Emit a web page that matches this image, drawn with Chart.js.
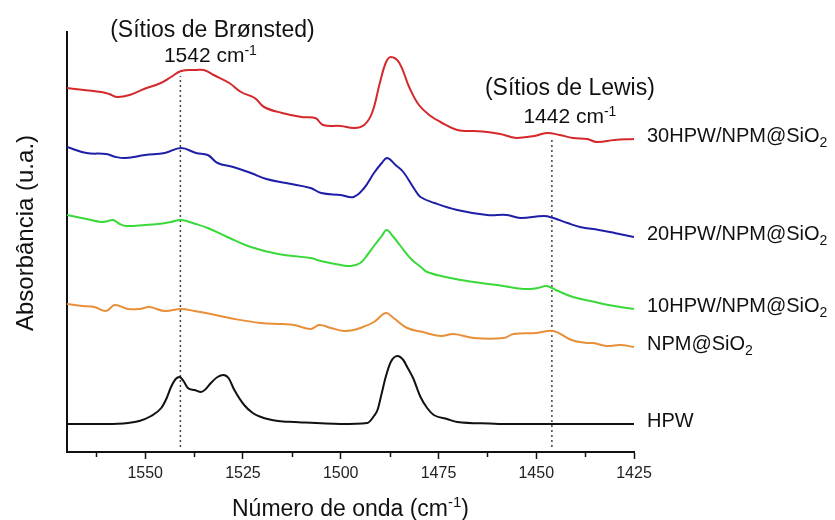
<!DOCTYPE html>
<html>
<head>
<meta charset="utf-8">
<script src="https://cdn.jsdelivr.net/npm/chart.js@4.4.1/dist/chart.umd.min.js"></script>
<style>
  html, body { margin: 0; padding: 0; background: #fff; }
  canvas { display: block; }
</style>
</head>
<body>
<canvas id="spectra" width="835" height="520"></canvas>
<script>
const FONT = '"Liberation Sans", Arial, sans-serif';

// wavenumber (cm-1) / absorbance (a.u., stacked)
const wn30 = [1570, 1561.2, 1559.2, 1557.3, 1554, 1550.3, 1546, 1543.4, 1540.8, 1537, 1535, 1532.5, 1528.5, 1525.5, 1522, 1519.6, 1515, 1510, 1506.5, 1504.5, 1500, 1496.5, 1494, 1492, 1490, 1488.5, 1487.2, 1485, 1482.5, 1480, 1477, 1474.5, 1470.2, 1466, 1462.6, 1459.2, 1456.5, 1454.9, 1450.5, 1447.3, 1444, 1440.6, 1437, 1434.5, 1430, 1425];
const abs30 = [3.64, 3.60, 3.58, 3.55, 3.57, 3.63, 3.69, 3.75, 3.81, 3.82, 3.82, 3.77, 3.69, 3.60, 3.54, 3.45, 3.39, 3.35, 3.34, 3.27, 3.26, 3.24, 3.27, 3.39, 3.69, 3.89, 3.95, 3.89, 3.65, 3.47, 3.36, 3.30, 3.22, 3.21, 3.20, 3.18, 3.15, 3.14, 3.16, 3.19, 3.17, 3.14, 3.13, 3.10, 3.12, 3.13];

const wn20 = [1570, 1565, 1560, 1557.5, 1555, 1550, 1545, 1540.8, 1537, 1534, 1531.5, 1527.5, 1523, 1519, 1514, 1507.7, 1505, 1500, 1496.7, 1494, 1491.5, 1489.5, 1488.1, 1486, 1484, 1481, 1479.6, 1476, 1470.2, 1462.6, 1457.5, 1454.1, 1448.1, 1445.6, 1442, 1438.8, 1434, 1430, 1425];
const abs20 = [3.05, 2.99, 2.98, 2.95, 2.94, 2.97, 2.99, 3.04, 2.99, 2.97, 2.89, 2.85, 2.79, 2.73, 2.69, 2.64, 2.59, 2.57, 2.55, 2.64, 2.79, 2.89, 2.94, 2.87, 2.80, 2.62, 2.55, 2.49, 2.42, 2.37, 2.37, 2.34, 2.36, 2.34, 2.29, 2.25, 2.22, 2.19, 2.15];

const wn10 = [1570, 1565, 1561.2, 1559.5, 1558.2, 1556.5, 1554.8, 1550, 1546.8, 1543.5, 1540.8, 1537, 1534, 1529, 1523, 1516, 1507.7, 1505.1, 1500, 1497.4, 1495, 1493.2, 1491.5, 1489.5, 1488.3, 1486.5, 1484.7, 1482, 1479.5, 1477.9, 1472, 1466, 1460, 1453.2, 1449.6, 1447.3, 1445, 1440.6, 1435, 1430, 1425];
const abs10 = [2.37, 2.33, 2.30, 2.31, 2.32, 2.28, 2.26, 2.27, 2.28, 2.30, 2.32, 2.28, 2.24, 2.15, 2.05, 1.98, 1.94, 1.91, 1.87, 1.86, 1.89, 1.97, 2.06, 2.16, 2.22, 2.15, 2.06, 1.93, 1.85, 1.80, 1.74, 1.70, 1.67, 1.63, 1.64, 1.66, 1.62, 1.55, 1.50, 1.46, 1.43];

const wnNpm = [1570, 1566, 1563, 1560, 1557.8, 1554.4, 1551.5, 1548.9, 1545.1, 1540.8, 1537.4, 1533.2, 1527.2, 1520.4, 1515, 1511.9, 1507.7, 1505.5, 1502.5, 1499.2, 1497.4, 1495, 1491.5, 1488.5, 1486.5, 1483, 1479, 1474.5, 1471.1, 1466, 1458.3, 1455.8, 1450, 1445.6, 1441, 1437.1, 1435.4, 1432, 1428.5, 1425];
const absNpm = [1.48, 1.46, 1.45, 1.41, 1.47, 1.43, 1.43, 1.45, 1.41, 1.43, 1.41, 1.38, 1.33, 1.29, 1.28, 1.27, 1.23, 1.27, 1.24, 1.21, 1.215, 1.24, 1.30, 1.39, 1.34, 1.24, 1.20, 1.16, 1.18, 1.14, 1.14, 1.18, 1.19, 1.21, 1.12, 1.09, 1.09, 1.06, 1.07, 1.05];

const wnHpw = [1570, 1560, 1554.4, 1551.5, 1548.5, 1545.9, 1544.5, 1543.4, 1542.2, 1541.25, 1540.2, 1539.1, 1537.4, 1535.7, 1534.5, 1533.2, 1531.5, 1530, 1528.7, 1527.2, 1524.7, 1522.5, 1520.4, 1516, 1511.9, 1500, 1493.2, 1491.5, 1490.6, 1489.5, 1488.5, 1487.2, 1485.5, 1484, 1483, 1481.5, 1479.6, 1477.9, 1476.2, 1472.8, 1470.2, 1462, 1457.5, 1425];
const absHpw = [0.28, 0.28, 0.29, 0.31, 0.36, 0.44, 0.54, 0.65, 0.73, 0.75, 0.71, 0.64, 0.62, 0.60, 0.63, 0.69, 0.75, 0.77, 0.74, 0.62, 0.47, 0.39, 0.35, 0.31, 0.30, 0.28, 0.29, 0.36, 0.42, 0.59, 0.75, 0.90, 0.96, 0.92, 0.85, 0.74, 0.55, 0.44, 0.37, 0.33, 0.30, 0.285, 0.28, 0.28];

const seriesWn = [wn30, wn20, wn10, wnNpm, wnHpw];
const seriesAbs = [abs30, abs20, abs10, absNpm, absHpw];
const seriesNames = ['30HPW/NPM@SiO', '20HPW/NPM@SiO', '10HPW/NPM@SiO', 'NPM@SiO', 'HPW'];
const seriesSub = ['2', '2', '2', '2', ''];
const seriesColors = ['#d4282b', '#1d1fa6', '#3ad93a', '#e88f3a', '#111111'];

// dotted marker lines: [wavenumber, bottom, top]
const bronsted = [1541, 0.05, 3.76];
const lewis = [1446, 0.05, 3.12];
const xTicksMinor = [1562.5, 1537.5, 1512.5, 1487.5, 1462.5, 1437.5];

const datasets = seriesWn.map((wn, i) => ({
    label: seriesNames[i] + seriesSub[i],
    data: wn.map((x, j) => ({ x: x, y: seriesAbs[i][j] })),
    borderColor: seriesColors[i],
    borderWidth: 2,
    pointRadius: 0,
    tension: 0.4,
    // the pure HPW trace has clean peaks, monotone keeps them from overshooting
    cubicInterpolationMode: i === 4 ? 'monotone' : 'default',
    fill: false,
}));

[bronsted, lewis].forEach(m => {
    datasets.push({
        data: [{ x: m[0], y: m[1] }, { x: m[0], y: m[2] }],
        borderColor: '#444',
        borderWidth: 1.5,
        borderDash: [2, 3],
        pointRadius: 0,
    });
});

function drawRich(ctx, parts, x, y, align) {
    let total = 0;
    parts.forEach(p => {
        ctx.font = p.size + 'px ' + FONT;
        p.w = ctx.measureText(p.text).width;
        total += p.w;
    });
    let cx = align === 'center' ? x - total / 2 : x;
    parts.forEach(p => {
        ctx.font = p.size + 'px ' + FONT;
        ctx.fillText(p.text, cx, y + (p.dy || 0));
        cx += p.w;
    });
}

const labelsPlugin = {
    id: 'labels',
    afterDatasetsDraw(chart) {
        const { ctx, chartArea, scales: { x, y } } = chart;
        ctx.save();
        ctx.fillStyle = '#111';
        ctx.textAlign = 'left';
        ctx.textBaseline = 'alphabetic';

        // minor ticks
        ctx.strokeStyle = '#111';
        ctx.lineWidth = 1.5;
        xTicksMinor.forEach(v => {
            const px = Math.round(x.getPixelForValue(v)) + 0.5;
            ctx.beginPath();
            ctx.moveTo(px, chartArea.bottom);
            ctx.lineTo(px, chartArea.bottom + 5);
            ctx.stroke();
        });

        // series names next to the end of each trace
        seriesAbs.forEach((arr, i) => {
            const py = y.getPixelForValue(arr[arr.length - 1]) + 3;
            const parts = [{ text: seriesNames[i], size: 20 }];
            if (seriesSub[i]) parts.push({ text: seriesSub[i], size: 14, dy: 5 });
            drawRich(ctx, parts, chartArea.right + 13, py, 'left');
        });

        const bx = x.getPixelForValue(bronsted[0]);
        drawRich(ctx, [{ text: '(Sítios de Brønsted)', size: 23 }], bx + 32, 37, 'center');
        drawRich(ctx, [{ text: '1542 cm', size: 21 }, { text: '-1', size: 14, dy: -7 }], bx + 30, 62, 'center');

        const lx = x.getPixelForValue(lewis[0]);
        drawRich(ctx, [{ text: '(Sítios de Lewis)', size: 23 }], lx + 18, 95, 'center');
        drawRich(ctx, [{ text: '1442 cm', size: 21 }, { text: '-1', size: 14, dy: -7 }], lx + 18, 123, 'center');

        // axis titles (drawn here so the superscript matches the figure)
        const midX = (chartArea.left + chartArea.right) / 2;
        drawRich(ctx, [{ text: 'Número de onda (cm', size: 23 }, { text: '-1', size: 15, dy: -9 }, { text: ')', size: 23 }], midX, 516, 'center');
        ctx.translate(33, 233);
        ctx.rotate(-Math.PI / 2);
        drawRich(ctx, [{ text: 'Absorbância (u.a.)', size: 24 }], 0, 0, 'center');
        ctx.restore();
    }
};

new Chart(document.getElementById('spectra'), {
    type: 'line',
    data: { datasets },
    plugins: [labelsPlugin],
    options: {
        responsive: false,
        animation: false,
        layout: { padding: { top: 32, right: 201, bottom: 0, left: 0 } },
        plugins: {
            legend: { display: false },
            tooltip: { enabled: false },
        },
        scales: {
            x: {
                type: 'linear',
                reverse: true,
                min: 1425,
                max: 1570,
                afterFit: (s) => { s.height = 68; },
                border: { display: true, color: '#111', width: 2 },
                grid: { display: true, drawOnChartArea: false, drawTicks: true, tickLength: 7, tickWidth: 1.5, tickColor: '#111' },
                ticks: {
                    stepSize: 25,
                    includeBounds: false,
                    padding: 5,
                    color: '#222',
                    font: { family: FONT, size: 16 },
                    maxRotation: 0,
                    callback: (v) => String(v),
                },
            },
            y: {
                min: 0,
                max: 4.2,
                afterFit: (s) => { s.width = 67; },
                border: { display: true, color: '#111', width: 2 },
                grid: { display: true, drawOnChartArea: false, drawTicks: false },
                ticks: { display: false },
            },
        },
    },
});
</script>
</body>
</html>
